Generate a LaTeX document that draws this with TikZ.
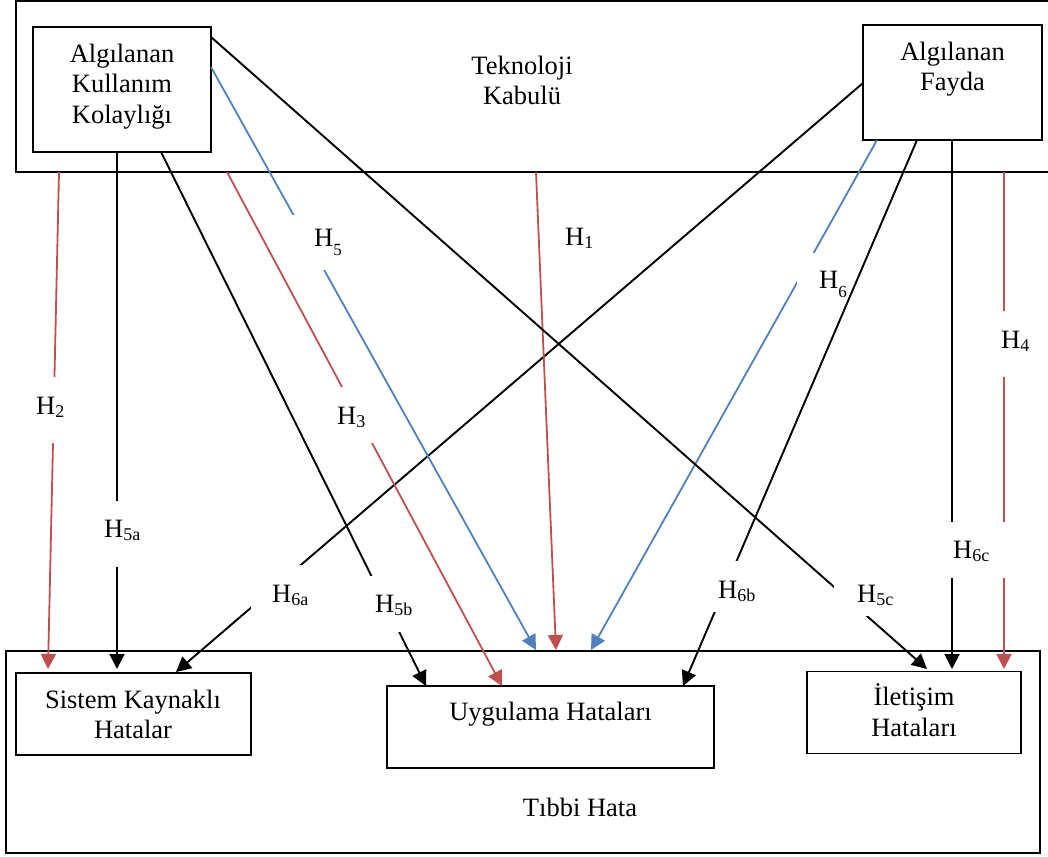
\documentclass[tikz,border=0pt]{standalone}
\usepackage{fontspec}
\setmainfont{Liberation Serif}
\usetikzlibrary{arrows.meta}
\definecolor{hred}{HTML}{C0504D}
\definecolor{hblue}{HTML}{4F81BD}
\newcommand{\Hsub}[1]{H\raisebox{-3pt}{\fontsize{18}{18}\selectfont #1}}
\newcommand{\Hlow}[1]{H\raisebox{-9pt}{\fontsize{17}{17}\selectfont #1}}
\begin{document}
\begin{tikzpicture}[x=1pt,y=-1pt,
  font=\fontsize{26.5}{30.5}\selectfont,
  boxst/.style={draw=black, line width=1.5pt, inner sep=0pt},
  txt/.style={inner sep=0pt, align=center},
  lbl/.style={inner sep=0pt, anchor=base west},
  conn/.style={line width=1.9pt, -{Triangle[width=15pt,length=15pt]}},
  redc/.style={conn, draw=hred, line width=1.8pt, -{Triangle[width=15pt,length=15pt,fill=hred]}},
  bluec/.style={conn, draw=hblue, line width=1.8pt, -{Triangle[width=15pt,length=15pt,fill=hblue]}},
  mask/.style={fill=white}]
\useasboundingbox (0,0) rectangle (1048,856);
\fill[white] (0,0) rectangle (1048,856);

% outer frames
\draw[line width=1.5pt] (1049,1) -- (16,1) -- (16,172) -- (1049,172);
\node[boxst, minimum width=1034, minimum height=202] (tibbi) at (523,752) {};

% boxes
\node[boxst, minimum width=178, minimum height=125] (akk) at (122,89.5) {};
\node[boxst, minimum width=179, minimum height=115] (af) at (952.5,82.5) {};
\node[boxst, minimum width=235, minimum height=82] (sis) at (133.5,714) {};
\node[boxst, minimum width=327, minimum height=82] (uyg) at (550.5,727) {};
\node[boxst, minimum width=214, minimum height=82] (ilt) at (914,712.5) {};

% texts
\node[txt] (tkt) at (522,80.5) {Teknoloji\\Kabulü};
\node[txt] (akkt) at (122,86.2) {Algılanan\\Kullanım\\Kolaylığı};
\node[txt] (aft) at (952.5,69.4) {Algılanan\\Fayda};
\node[txt] (sist) at (133,714.3) {Sistem Kaynaklı\\Hatalar};
\node[txt, anchor=base] (uygt) at (550.5,720) {Uygulama Hataları};
\node[txt] (iltt) at (914,710) {İletişim\\Hataları};
\node[txt, anchor=base] (tibt) at (580,816.7) {Tıbbi Hata};

% end points
\coordinate (s2) at (59,172);   \coordinate (e2) at (48,669);
\coordinate (s5a) at (117,152); \coordinate (e5a) at (117,669);
\coordinate (s6a) at (863,83);  \coordinate (e6a) at (176,672);
\coordinate (s5b) at (161,152); \coordinate (e5b) at (426,686);
\coordinate (s3) at (227,172);  \coordinate (e3) at (502,686);
\coordinate (s5) at (211,67);   \coordinate (e5) at (536,650);
\coordinate (s1) at (536,172);  \coordinate (e1) at (556,650);
\coordinate (s6) at (877,140);  \coordinate (e6) at (591,650);
\coordinate (s6b) at (917,140); \coordinate (e6b) at (683,686);
\coordinate (s6c) at (952,140); \coordinate (e6c) at (952,669);
\coordinate (s4) at (1004,172); \coordinate (e4) at (1004,669);
\coordinate (s5c) at (211,37);  \coordinate (e5c) at (927,669);

% connectors
\draw[redc] (s2) -- (e2);
\draw[conn] (s5a) -- (e5a);
\draw[conn] (s6a) -- (e6a);
\draw[conn] (s5b) -- (e5b);
\draw[redc] (s3) -- (e3);
\draw[bluec] (s5) -- (e5);
\draw[redc] (s1) -- (e1);
\draw[bluec] (s6) -- (e6);
\draw[conn] (s6b) -- (e6b);
\draw[conn] (s6c) -- (e6c);
\draw[redc] (s4) -- (e4);
\draw[conn] (s5c) -- (e5c);

% label backgrounds (text boxes)
\fill[mask] (30,377) rectangle (75,443);
\fill[mask] (98,501) rectangle (148,567);
\fill[mask] (322,387) rectangle (386,443);
\fill[mask] (288,215) rectangle (350,270);
\fill[mask] (797,253) rectangle (845,300);
\fill[mask] (990,311) rectangle (1035,377);
\fill[mask] (940,522) rectangle (1015,578);
\fill[mask] (251,565) rectangle (315,620);
\fill[mask] (365,576) rectangle (420,632);
\fill[mask] (705,561) rectangle (760,612);
\fill[mask] (834,565) rectangle (900,616);

% labels
\node[lbl] (l2) at (36,414) {\Hsub{2}};
\node[lbl] (l5a) at (104,537) {\Hsub{5a}};
\node[lbl] (l6a) at (272,602) {\Hsub{6a}};
\node[lbl] (l5b) at (375,612) {\Hsub{5b}};
\node[lbl] (l3) at (337,424) {\Hsub{3}};
\node[lbl] (l5) at (314,246) {\Hlow{5}};
\node[lbl] (l1) at (565,245) {\Hsub{1}};
\node[lbl] (l6) at (819,288) {\Hlow{6}};
\node[lbl] (l4) at (1001,348) {\Hsub{4}};
\node[lbl] (l6c) at (953,558) {\Hsub{6c}};
\node[lbl] (l6b) at (718,598) {\Hsub{6b}};
\node[lbl] (l5c) at (857,602) {\Hsub{5c}};
\end{tikzpicture}
\end{document}
